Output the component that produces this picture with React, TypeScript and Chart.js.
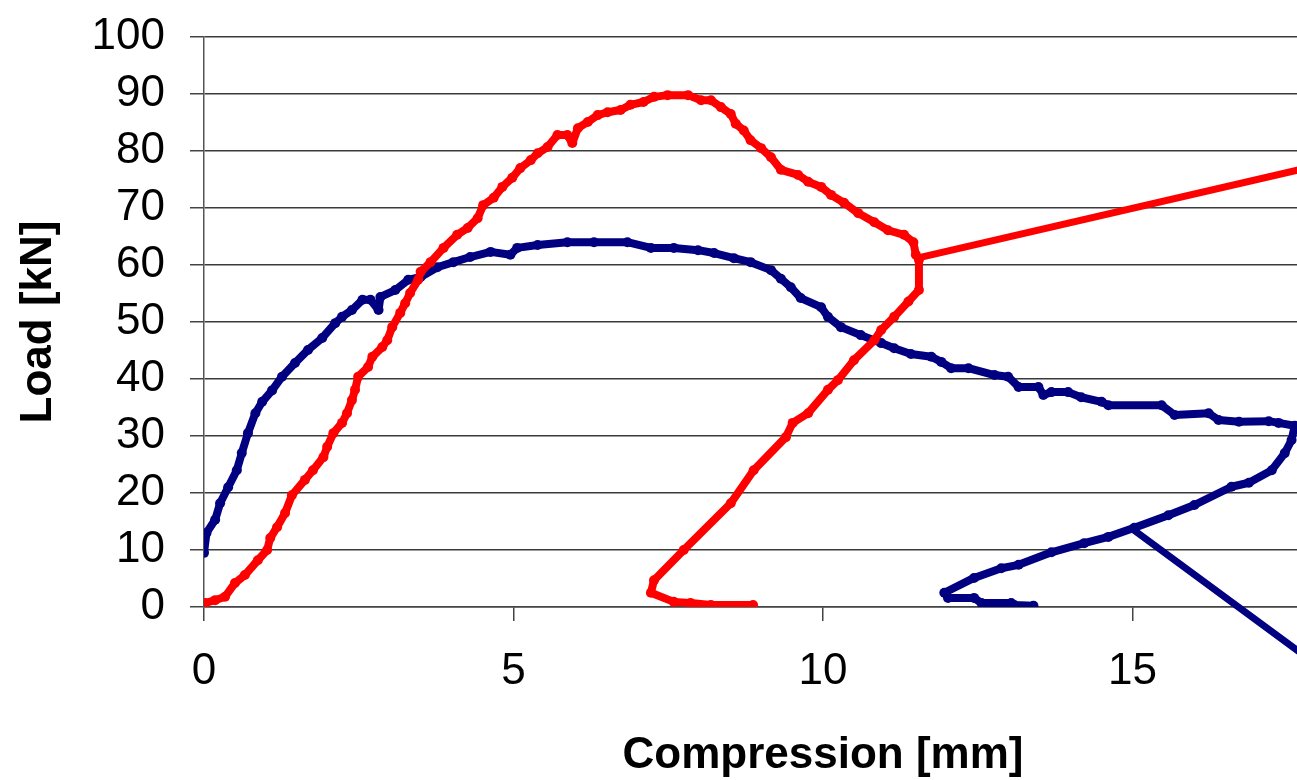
import React, { useEffect, useRef } from "react";
import { Chart, registerables } from "chart.js";

Chart.register(...registerables);

// ---- data ----
const blueX = [0.0, 0.04, 0.18, 0.26, 0.39, 0.53, 0.61, 0.71, 0.83, 0.94, 1.1, 1.26, 1.47, 1.68, 1.91, 2.12, 2.23, 2.39, 2.56, 2.69, 2.82, 2.85, 3.09, 3.3, 3.5, 3.77, 4.03, 4.3, 4.63, 4.95, 5.06, 5.39, 5.87, 6.3, 6.84, 7.22, 7.59, 7.98, 8.24, 8.56, 8.83, 9.16, 9.32, 9.48, 9.64, 9.97, 10.08, 10.29, 10.61, 10.94, 11.15, 11.42, 11.75, 11.91, 12.07, 12.35, 12.77, 12.99, 13.16, 13.48, 13.56, 13.69, 13.96, 14.17, 14.5, 14.61, 15.47, 15.68, 16.23, 16.39, 16.72, 17.2, 17.36, 17.62, 17.57, 17.46, 17.25, 16.88, 16.6, 16.0, 15.58, 15.03, 14.61, 14.22, 13.69, 13.16, 12.88, 12.44, 11.96, 12.02, 12.44, 12.56, 13.04, 13.09, 13.4];
const blueY = [9.5, 13.0, 15.3, 18.2, 21.0, 24.0, 27.0, 30.5, 34.0, 36.0, 38.0, 40.4, 42.8, 45.1, 47.2, 49.8, 50.9, 52.1, 53.9, 53.9, 52.1, 54.4, 55.6, 57.4, 57.9, 59.6, 60.5, 61.4, 62.3, 61.8, 63.0, 63.5, 64.0, 64.0, 64.0, 63.0, 63.0, 62.6, 62.1, 61.2, 60.5, 59.1, 57.6, 56.1, 54.2, 52.6, 50.9, 49.1, 47.7, 46.3, 45.4, 44.4, 43.9, 43.0, 41.9, 41.9, 40.7, 40.4, 38.6, 38.6, 37.2, 37.7, 37.7, 36.8, 36.0, 35.4, 35.4, 33.7, 34.0, 32.8, 32.5, 32.6, 32.3, 31.8, 29.3, 27.0, 24.0, 21.8, 21.1, 17.9, 16.1, 13.9, 12.3, 11.2, 9.6, 7.4, 6.8, 5.1, 2.5, 1.6, 1.6, 0.7, 0.7, 0.35, 0.2];
const blueTailX = [15.02, 20.0];
const blueTailY = [13.5, -26.3];

const redX = [0.0, 0.02, 0.18, 0.34, 0.5, 0.66, 0.87, 1.02, 1.07, 1.18, 1.31, 1.42, 1.63, 1.76, 1.93, 1.99, 2.09, 2.23, 2.31, 2.39, 2.44, 2.49, 2.65, 2.72, 2.88, 2.96, 3.04, 3.17, 3.25, 3.33, 3.46, 3.5, 3.66, 3.87, 4.09, 4.26, 4.42, 4.51, 4.68, 4.82, 4.98, 5.11, 5.28, 5.39, 5.55, 5.71, 5.87, 5.95, 6.04, 6.2, 6.36, 6.52, 6.73, 6.89, 7.1, 7.27, 7.49, 7.82, 8.03, 8.19, 8.35, 8.51, 8.59, 8.72, 8.83, 9.0, 9.16, 9.32, 9.6, 9.76, 9.97, 10.13, 10.34, 10.57, 10.83, 11.05, 11.31, 11.46, 11.5, 11.55, 11.55, 11.38, 11.15, 10.94, 10.83, 10.5, 10.24, 10.08, 9.76, 9.51, 9.4, 8.88, 8.51, 7.75, 7.27, 7.22, 7.59, 7.86, 8.19, 8.87];
const redY = [0.5, 0.7, 1.2, 1.8, 4.2, 5.6, 8.2, 10.0, 12.1, 14.0, 16.5, 19.6, 22.3, 24.0, 26.3, 28.1, 30.5, 32.3, 34.0, 36.3, 38.1, 40.4, 42.1, 43.9, 45.6, 46.8, 49.1, 51.6, 53.3, 55.1, 57.4, 58.8, 60.5, 63.0, 65.3, 66.5, 68.2, 70.5, 71.8, 73.7, 75.3, 77.0, 78.4, 79.6, 80.7, 82.8, 82.8, 81.4, 84.0, 85.1, 86.3, 86.8, 87.2, 88.1, 88.6, 89.5, 89.8, 89.8, 88.9, 88.9, 87.7, 86.5, 84.8, 83.6, 81.9, 80.5, 78.9, 76.7, 75.8, 74.6, 73.7, 72.3, 70.9, 69.1, 67.5, 66.1, 65.3, 64.0, 61.8, 60.9, 55.6, 53.6, 50.9, 48.6, 46.8, 43.3, 39.8, 38.1, 34.0, 32.3, 29.8, 24.0, 18.2, 10.0, 4.7, 2.5, 0.9, 0.7, 0.35, 0.35];
const redTailX = [11.52, 20.0];
const redTailY = [61.2, 82.5];

const xTickValues = [0, 5, 10, 15, 20];
const yTickStep = 10;
const xTitle = "Compression [mm]";
const yTitle = "Load [kN]";

const BLUE = "#000080";
const RED = "#FF0000";
const FONT = "'Liberation Sans', Arial, sans-serif";

const pts = (xs: number[], ys: number[]) => xs.map((x, i) => ({ x, y: ys[i] }));

const zeroPad = (s: any) => {
  s.paddingTop = 0;
  s.paddingBottom = 0;
  s.paddingLeft = 0;
  s.paddingRight = 0;
};

export default function App() {
  const ref = useRef<HTMLCanvasElement | null>(null);

  useEffect(() => {
    if (!ref.current) return;
    const lineBase = {
      showLine: true,
      borderWidth: 8,
      pointRadius: 5,
      pointBorderWidth: 0,
      pointHoverRadius: 0,
      tension: 0,
      borderJoinStyle: "round" as const,
      borderCapStyle: "round" as const,
    };
    const tailBase = { ...lineBase, borderWidth: 7, pointRadius: 0, clip: false };
    const chart = new Chart(ref.current, {
      type: "scatter",
      data: {
        datasets: [
          { ...lineBase, label: "red", data: pts(redX, redY), borderColor: RED, backgroundColor: RED, order: 0 },
          { ...tailBase, label: "red tail", data: pts(redTailX, redTailY), borderColor: RED, backgroundColor: RED, order: 0 },
          { ...lineBase, label: "blue", data: pts(blueX, blueY), borderColor: BLUE, backgroundColor: BLUE, order: 1 },
          { ...tailBase, label: "blue tail", data: pts(blueTailX, blueTailY), borderColor: BLUE, backgroundColor: BLUE, order: 1 },
        ],
      },
      options: {
        responsive: false,
        animation: false,
        devicePixelRatio: 1,
        layout: { padding: { top: 37, right: 28, left: 0, bottom: 0 } },
        plugins: {
          legend: { display: false },
          tooltip: { enabled: false },
          title: { display: false },
        },
        scales: {
          x: {
            type: "linear",
            min: 0,
            max: 20,
            afterBuildTicks: (s: any) => {
              s.ticks = xTickValues.map((v) => ({ value: v }));
            },
            afterFit: (s: any) => {
              s.height = 173;
              zeroPad(s);
            },
            ticks: {
              font: { family: FONT, size: 44 },
              color: "#000",
              padding: 24,
              maxRotation: 0,
              autoSkip: false,
            },
            grid: {
              drawOnChartArea: false,
              drawTicks: true,
              tickLength: 14,
              tickColor: "#444",
              lineWidth: 1.5,
            },
            border: { display: true, color: "#444", width: 1.5 },
            title: {
              display: true,
              text: xTitle,
              font: { family: FONT, size: 44, weight: "bold" },
              color: "#000",
              padding: { top: 0, bottom: -2 },
            },
          },
          y: {
            type: "linear",
            min: 0,
            max: 100,
            afterFit: (s: any) => {
              s.width = 204;
              zeroPad(s);
            },
            ticks: {
              stepSize: yTickStep,
              autoSkip: false,
              font: { family: FONT, size: 44 },
              color: "#000",
              padding: 25,
            },
            grid: {
              color: "#3a3a3a",
              lineWidth: 1.5,
              drawTicks: true,
              tickLength: 14,
              tickColor: "#444",
            },
            border: { display: true, color: "#555", width: 1.5 },
            title: {
              display: true,
              text: yTitle,
              font: { family: FONT, size: 44, weight: "bold" },
              color: "#000",
              padding: { top: 12, bottom: 0 },
            },
          },
        },
      },
    } as any);
    return () => chart.destroy();
  }, []);

  return (
    <div
      style={{
        position: "fixed",
        left: 0,
        top: 0,
        width: 1297,
        height: 780,
        overflow: "hidden",
        background: "#fff",
      }}
    >
      <canvas ref={ref} width={1470} height={780} style={{ display: "block" }} />
    </div>
  );
}
